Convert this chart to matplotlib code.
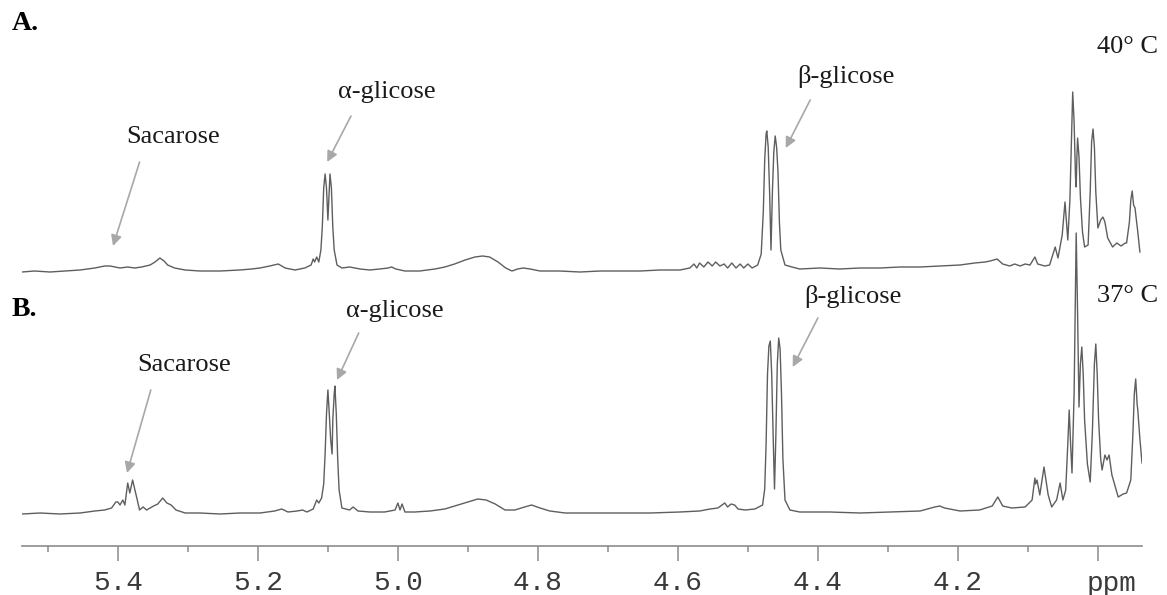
import numpy as np
from matplotlib import pyplot as plt
from matplotlib.transforms import blended_transform_factory

# 1H NMR spectra: (chemical shift in ppm, intensity in
# arbitrary units above that spectrum's own baseline)
spectrum_a = [
    (5.537, 0), (5.519, 1), (5.497, 0), (5.476, 1), (5.454, 2), (5.433, 4),
    (5.419, 6), (5.411, 6), (5.404, 5), (5.397, 4), (5.386, 5), (5.376, 4),
    (5.366, 5), (5.354, 7), (5.347, 10), (5.340, 14), (5.334, 11), (5.329, 7),
    (5.319, 4), (5.304, 2), (5.283, 1), (5.254, 1), (5.226, 2), (5.209, 3),
    (5.197, 4), (5.183, 6), (5.171, 8), (5.161, 4), (5.147, 2), (5.133, 4),
    (5.124, 7), (5.121, 13), (5.119, 10), (5.116, 15), (5.113, 10), (5.110, 22),
    (5.108, 45), (5.106, 84), (5.104, 98), (5.102, 84), (5.100, 52), (5.098, 84),
    (5.097, 98), (5.095, 84), (5.093, 45), (5.091, 22), (5.087, 7), (5.080, 4),
    (5.069, 5), (5.054, 3),
    (5.040, 2), (5.026, 3), (5.014, 4), (5.009, 5), (5.003, 3), (4.990, 1),
    (4.969, 1), (4.947, 3), (4.933, 5), (4.919, 8), (4.904, 12), (4.890, 15),
    (4.879, 16), (4.869, 15), (4.857, 10), (4.846, 4), (4.837, 1), (4.829, 3),
    (4.821, 4), (4.811, 3), (4.797, 1), (4.769, 1), (4.740, 0), (4.711, 1),
    (4.683, 1), (4.654, 1), (4.626, 2), (4.597, 2), (4.583, 4), (4.577, 8),
    (4.573, 4), (4.569, 9), (4.563, 5), (4.557, 10), (4.551, 6), (4.546, 10),
    (4.540, 6), (4.534, 8), (4.529, 4), (4.523, 9), (4.517, 4), (4.511, 8),
    (4.506, 4), (4.500, 8), (4.494, 4), (4.486, 7), (4.481, 18), (4.478, 60),
    (4.476, 112), (4.474, 138), (4.473, 141), (4.471, 125), (4.469, 80), (4.467, 22),
    (4.465, 80), (4.463, 120), (4.461, 136), (4.459, 125), (4.457, 100), (4.455, 50),
    (4.453, 22), (4.447, 7), (4.437, 5), (4.426, 3), (4.397, 4), (4.369, 3),
    (4.340, 4), (4.311, 4), (4.283, 5), (4.254, 5), (4.226, 6), (4.197, 7),
    (4.176, 9), (4.161, 10), (4.154, 11), (4.144, 13), (4.136, 8), (4.126, 6),
    (4.119, 8), (4.111, 6), (4.104, 8), (4.097, 7), (4.090, 15), (4.086, 8),
    (4.076, 6), (4.069, 7), (4.061, 25), (4.057, 14), (4.051, 37), (4.047, 70),
    (4.044, 42), (4.043, 32), (4.040, 72), (4.037, 150), (4.036, 180), (4.034, 150),
    (4.032, 95), (4.031, 85), (4.030, 115), (4.029, 134), (4.027, 115), (4.025, 75),
    (4.022, 40), (4.019, 25), (4.014, 27), (4.011, 80), (4.009, 130), (4.007, 143),
    (4.005, 125), (4.003, 80), (4.000, 44), (3.996, 52), (3.993, 55), (3.991, 52),
    (3.990, 50), (3.986, 34), (3.979, 25), (3.973, 29), (3.967, 26), (3.961, 29),
    (3.959, 29), (3.955, 50), (3.953, 72), (3.951, 81), (3.949, 67), (3.947, 64),
    (3.943, 40), (3.940, 20),
]

spectrum_b = [
    (5.537, 0), (5.511, 1), (5.483, 0), (5.454, 1), (5.433, 3), (5.419, 4),
    (5.409, 6), (5.403, 12), (5.400, 12), (5.397, 9), (5.393, 14), (5.390, 9),
    (5.386, 31), (5.383, 21), (5.379, 34), (5.374, 19), (5.369, 4), (5.364, 7),
    (5.359, 4), (5.349, 8), (5.343, 10), (5.336, 16), (5.330, 11), (5.324, 9),
    (5.317, 4), (5.304, 1), (5.283, 1), (5.254, 0), (5.226, 1), (5.197, 1),
    (5.176, 3), (5.166, 5), (5.157, 2), (5.144, 3), (5.136, 4), (5.130, 2),
    (5.121, 5), (5.116, 14), (5.113, 11), (5.109, 16), (5.106, 30), (5.104, 60),
    (5.102, 100), (5.100, 124), (5.098, 100), (5.096, 74), (5.094, 60), (5.093, 94),
    (5.091, 120), (5.090, 128), (5.088, 100), (5.086, 55), (5.084, 24), (5.080, 6),
    (5.069, 4), (5.064, 7), (5.057, 3), (5.040, 2),
    (5.019, 2), (5.004, 4), (5.000, 11), (4.997, 4), (4.994, 10), (4.990, 2),
    (4.976, 2), (4.954, 3), (4.933, 5), (4.914, 9), (4.900, 12), (4.886, 15),
    (4.874, 14), (4.861, 10), (4.847, 4), (4.833, 4), (4.819, 7), (4.809, 9),
    (4.797, 6), (4.783, 3), (4.761, 1), (4.726, 1), (4.683, 1), (4.640, 1),
    (4.597, 2), (4.569, 3), (4.554, 5), (4.543, 6), (4.533, 11), (4.529, 7),
    (4.524, 10), (4.519, 9), (4.514, 5), (4.504, 4), (4.490, 5), (4.479, 9),
    (4.476, 25), (4.474, 70), (4.472, 140), (4.470, 168), (4.468, 173), (4.466, 140),
    (4.464, 80), (4.462, 25), (4.460, 80), (4.458, 150), (4.456, 176), (4.454, 165),
    (4.452, 120), (4.450, 55), (4.447, 14), (4.440, 4), (4.426, 2), (4.383, 2),
    (4.340, 1), (4.297, 2), (4.254, 3), (4.233, 7), (4.226, 8), (4.219, 6),
    (4.197, 3), (4.169, 4), (4.151, 8), (4.143, 17), (4.136, 8), (4.123, 6),
    (4.104, 7), (4.094, 14), (4.090, 36), (4.089, 30), (4.087, 34), (4.083, 19),
    (4.077, 47), (4.071, 19), (4.066, 7), (4.059, 14), (4.054, 31), (4.050, 14),
    (4.046, 24), (4.043, 70), (4.041, 104), (4.039, 70), (4.037, 41), (4.034, 120),
    (4.032, 230), (4.031, 281), (4.029, 200), (4.027, 107), (4.025, 150), (4.023, 167),
    (4.021, 140), (4.019, 94), (4.015, 50), (4.011, 32), (4.008, 80), (4.005, 150),
    (4.003, 170), (4.001, 140), (3.999, 94), (3.996, 55), (3.994, 44),
    (3.990, 59), (3.987, 54), (3.984, 59), (3.980, 39), (3.971, 17), (3.964, 20),
    (3.959, 21), (3.953, 34), (3.950, 80), (3.948, 120), (3.946, 135), (3.944, 110),
    (3.943, 104), (3.940, 75), (3.937, 51),
]

tick_major = [5.4, 5.2, 5.0, 4.8, 4.6, 4.4, 4.2, 4.0]
tick_labels = ["5.4", "5.2", "5.0", "4.8", "4.6", "4.4", "4.2", ""]
tick_minor = [5.5, 5.3, 5.1, 4.9, 4.7, 4.5, 4.3, 4.1]

A_OFFSET = 242  # vertical stacking of spectrum A above spectrum B

LINE = "#5e5e5e"
ARROW = "#a8a8a8"
AXIS = "#8c8c8c"
SERIF = "Liberation Serif"
MONO = "Liberation Mono"

ppm_a, int_a = (np.array(v, dtype=float) for v in zip(*spectrum_a))
ppm_b, int_b = (np.array(v, dtype=float) for v in zip(*spectrum_b))

fig = plt.figure(figsize=(11.67, 5.95), dpi=100)
ax = fig.add_axes([22 / 1167, 49 / 595, 1120 / 1167, 546 / 595])

ax.plot(ppm_b, int_b, color=LINE, lw=1.0)
ax.plot(ppm_a, int_a + A_OFFSET, color=LINE, lw=1.0)

ax.set_xlim(5.537, 3.937)
ax.set_ylim(-32, 514)

for s in ("top", "left", "right"):
    ax.spines[s].set_visible(False)
ax.spines["bottom"].set_color(AXIS)
ax.spines["bottom"].set_linewidth(1.2)
ax.set_yticks([])
ax.set_xticks(tick_major)
ax.set_xticklabels(tick_labels, family=MONO, fontsize=20, color="#3a3a3a")
ax.set_xticks(tick_minor, minor=True)
ax.tick_params(axis="x", which="major", length=11, width=1.1, color=AXIS, pad=6)
ax.tick_params(axis="x", which="minor", length=4, width=1.1, color=AXIS)

# unit label sits just right of the 4.0 tick
trans = blended_transform_factory(ax.transData, ax.transAxes)
ax.text(3.980, -45 / 546, "ppm", transform=trans, family=MONO, fontsize=20,
        color="#3a3a3a", ha="center", va="baseline")

# annotations: (label, text position, arrow start, arrow tip)
notes = [
    ("Sacarose", (5.321, 377), (5.369, 352), (5.407, 268)),
    ("\u03b1-glicose", (5.016, 422), (5.067, 398), (5.101, 352)),
    ("\u03b2-glicose", (4.360, 437), (4.411, 414), (4.446, 366)),
    ("Sacarose", (5.306, 149), (5.353, 124), (5.387, 41)),
    ("\u03b1-glicose", (5.005, 203), (5.056, 181), (5.087, 134)),
    ("\u03b2-glicose", (4.350, 218), (4.400, 196), (4.436, 147)),
]
for label, txt, start, tip in notes:
    ax.text(txt[0], txt[1], label, family=SERIF, fontsize=19,
            ha="center", va="center", color="#1a1a1a")
    ax.annotate("", xy=tip, xytext=start,
                arrowprops=dict(arrowstyle="-|>", color=ARROW, lw=1.2,
                                mutation_scale=16, shrinkA=0, shrinkB=0))

fig.text(12 / 1167, 1 - 24 / 595, "A.", family=SERIF, fontsize=20,
         fontweight="bold", va="center", ha="left")
fig.text(12 / 1167, 1 - 310 / 595, "B.", family=SERIF, fontsize=20,
         fontweight="bold", va="center", ha="left")
fig.text(1158 / 1167, 1 - 47 / 595, "40\u00b0 C", family=SERIF, fontsize=19,
         va="center", ha="right", color="#1a1a1a")
fig.text(1158 / 1167, 1 - 296 / 595, "37\u00b0 C", family=SERIF, fontsize=19,
         va="center", ha="right", color="#1a1a1a")

fig.savefig("out.png", dpi=100)
